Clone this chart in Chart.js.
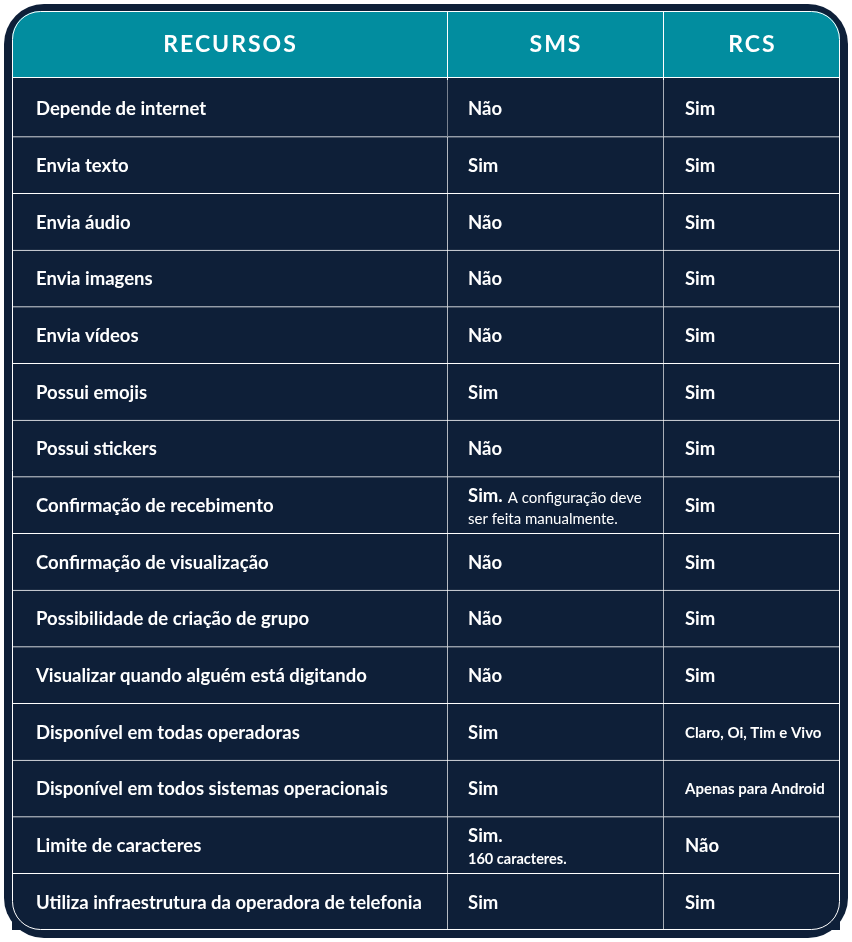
<!DOCTYPE html>
<html>
<head>
<meta charset="utf-8">
<script src="https://cdn.jsdelivr.net/npm/chart.js@4.4.1/dist/chart.umd.min.js"></script>
<style>
  html, body { margin: 0; padding: 0; background: #ffffff; }
  canvas { display: block; }
</style>
</head>
<body>
<canvas id="tabela" width="852" height="942"></canvas>
<script>
// colunas da tabela
var cabecalhos = ["RECURSOS", "SMS", "RCS"];
// limites das colunas (escala 0-100)
var limitesColunas = [0, 52.54, 78.62, 100];

var recursos = [
    "Depende de internet",
    "Envia texto",
    "Envia áudio",
    "Envia imagens",
    "Envia vídeos",
    "Possui emojis",
    "Possui stickers",
    "Confirmação de recebimento",
    "Confirmação de visualização",
    "Possibilidade de criação de grupo",
    "Visualizar quando alguém está digitando",
    "Disponível em todas operadoras",
    "Disponível em todos sistemas operacionais",
    "Limite de caracteres",
    "Utiliza infraestrutura da operadora de telefonia"
];
var sms = ["Não", "Sim", "Não", "Não", "Não", "Sim", "Não", "Sim.", "Não", "Não", "Não", "Sim", "Sim", "Sim.", "Sim"];
var rcs = ["Sim", "Sim", "Sim", "Sim", "Sim", "Sim", "Sim", "Sim", "Sim", "Sim", "Sim", "Claro, Oi, Tim e Vivo", "Apenas para Android", "Não", "Sim"];
// notas do SMS: [texto na mesma linha, texto na linha de baixo]
var smsNotas = {
    7: ["A configuração deve", "ser feita manualmente."],
    13: ["", "160 caracteres."]
};

var NAVY = "#0e1f38";
var TEAL = "#028d9f";
var FONTE = "Lato, 'Noto Sans', sans-serif";
var TOPO = 11;       // topo do cabeçalho
var BASE_CAB = 77;   // linha de baixo do cabeçalho

// dados das barras: cada célula é uma barra flutuante
var colunasDatasets = cabecalhos.map(function (h, c) {
    return {
        label: h,
        data: recursos.map(function () {
            return [limitesColunas[c], limitesColunas[c + 1]];
        }),
        backgroundColor: NAVY,
        borderColor: "#ffffff",
        borderSkipped: false,
        borderWidth: function (ctx) {
            return { top: ctx.dataIndex > 0 ? 1 : 0, left: c > 0 ? 1 : 0, right: 0, bottom: 0 };
        },
        grouped: false,
        barPercentage: 1,
        categoryPercentage: 1
    };
});

var tabelaPlugin = {
    id: "tabela",
    beforeDraw: function (chart) {
        var ctx = chart.ctx;
        var area = chart.chartArea;
        var x = chart.scales.x;
        ctx.save();
        ctx.fillStyle = "#ffffff";
        ctx.fillRect(0, 0, chart.width, chart.height);
        // moldura
        ctx.fillStyle = NAVY;
        ctx.beginPath();
        ctx.roundRect(4, 4, chart.width - 8, chart.height - 8, 40);
        ctx.fill();
        // cabeçalho
        ctx.fillStyle = TEAL;
        ctx.beginPath();
        ctx.roundRect(area.left, TOPO, area.right - area.left, BASE_CAB - TOPO, [28, 28, 0, 0]);
        ctx.fill();
        ctx.strokeStyle = "#ffffff";
        ctx.lineWidth = 1;
        ctx.beginPath();
        ctx.moveTo(area.left, BASE_CAB + 0.5);
        ctx.lineTo(area.right, BASE_CAB + 0.5);
        ctx.stroke();
        for (var c = 1; c < cabecalhos.length; c++) {
            var xp = Math.round(x.getPixelForValue(limitesColunas[c])) + 0.5;
            ctx.beginPath();
            ctx.moveTo(xp, TOPO);
            ctx.lineTo(xp, area.top);
            ctx.stroke();
        }
        ctx.fillStyle = "#ffffff";
        ctx.font = "700 23px " + FONTE;
        ctx.letterSpacing = "2px";
        ctx.textAlign = "center";
        ctx.textBaseline = "middle";
        cabecalhos.forEach(function (h, c) {
            var xc = (x.getPixelForValue(limitesColunas[c]) + x.getPixelForValue(limitesColunas[c + 1])) / 2;
            ctx.fillText(h, xc + 1, (TOPO + BASE_CAB) / 2 + 1);
        });
        ctx.restore();
    },
    afterDatasetsDraw: function (chart) {
        var ctx = chart.ctx;
        var area = chart.chartArea;
        var x = chart.scales.x;
        var y = chart.scales.y;
        var recuo = [24, 21, 22];
        var fonteMain = "700 18.5px " + FONTE;
        ctx.save();
        ctx.fillStyle = "#ffffff";
        ctx.textAlign = "left";
        ctx.textBaseline = "middle";
        recursos.forEach(function (r, i) {
            var yc = y.getPixelForValue(i) + 1;
            var x0 = x.getPixelForValue(limitesColunas[0]) + recuo[0];
            var x1 = x.getPixelForValue(limitesColunas[1]) + recuo[1];
            var x2 = x.getPixelForValue(limitesColunas[2]) + recuo[2];
            ctx.font = fonteMain;
            ctx.fillText(r, x0, yc);
            // SMS
            var nota = smsNotas[i];
            if (nota) {
                ctx.font = fonteMain;
                ctx.fillText(sms[i], x1, yc - 10);
                var w = ctx.measureText(sms[i]).width + 5;
                if (nota[0]) {
                    ctx.font = "400 15px " + FONTE;
                    ctx.fillText(nota[0], x1 + w, yc - 8);
                    ctx.fillText(nota[1], x1, yc + 13);
                } else {
                    ctx.font = "700 14.5px " + FONTE;
                    ctx.fillText(nota[1], x1, yc + 13);
                }
            } else {
                ctx.font = fonteMain;
                ctx.fillText(sms[i], x1, yc);
            }
            // RCS
            ctx.font = rcs[i].length > 4 ? "700 15px " + FONTE : fonteMain;
            ctx.fillText(rcs[i], x2, yc);
        });
        // contorno branco da tabela
        ctx.strokeStyle = "#ffffff";
        ctx.lineWidth = 1;
        ctx.beginPath();
        ctx.roundRect(area.left + 0.5, TOPO + 0.5, area.right - area.left - 1, area.bottom - TOPO - 1, 28);
        ctx.stroke();
        ctx.restore();
    }
};

new Chart(document.getElementById("tabela"), {
    type: "bar",
    data: {
        labels: recursos,
        datasets: colunasDatasets
    },
    options: {
        indexAxis: "y",
        responsive: false,
        animation: false,
        devicePixelRatio: 1,
        layout: { padding: { left: 12, right: 12, top: 80, bottom: 12 } },
        scales: {
            x: { type: "linear", min: 0, max: 100, display: false },
            y: { type: "category", display: false, offset: true }
        },
        plugins: {
            legend: { display: false },
            tooltip: { enabled: false }
        }
    },
    plugins: [tabelaPlugin]
});
</script>
</body>
</html>
